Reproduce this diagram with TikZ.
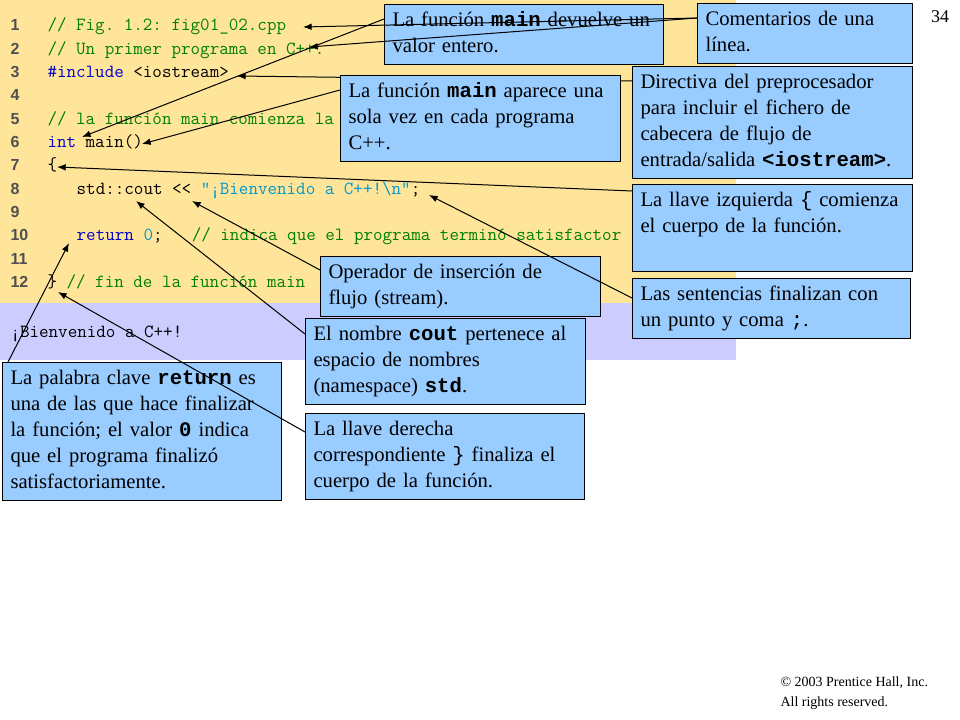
\documentclass[tikz,border=0pt]{standalone}
\usepackage{fontspec}
\setmainfont{Liberation Serif}
\setsansfont{Liberation Sans}
\setmonofont{Liberation Mono}
\usepackage{xcolor}
\usepackage{tikz}
\usetikzlibrary{positioning,arrows.meta}

\definecolor{codebg}{RGB}{255,229,153}
\definecolor{outbg}{RGB}{204,204,255}
\definecolor{notefill}{RGB}{153,204,255}
\definecolor{comgreen}{RGB}{0,128,0}
\definecolor{keyblue}{RGB}{0,0,204}
\definecolor{strblue}{RGB}{0,153,204}
\definecolor{numgray}{RGB}{80,80,80}

\newcommand{\codefont}{\fontsize{13.9}{16}\fontfamily{lmtt}\selectfont\frenchspacing}
\newcommand{\notefont}{\fontsize{15.5}{19.5}\selectfont}
\newcommand{\lnum}[1]{\makebox[27.75pt][l]{\fontsize{12}{14}\sffamily\bfseries\color{numgray}#1}}
\newcommand{\ind}{\hspace*{21.9pt}}
\newcommand{\cm}[1]{\textcolor{comgreen}{#1}}
\newcommand{\kw}[1]{\textcolor{keyblue}{#1}}
\newcommand{\tb}[1]{\texttt{\textbf{#1}}}

\begin{document}
\begin{tikzpicture}[x=0.75pt, y=-0.75pt, node distance=17.52pt,
  >={Latex[length=6.5pt,width=5pt]}, line width=0.75pt,
  every node/.style={inner sep=0pt},
  code/.style={anchor=west, font=\codefont, text height=9pt, text depth=3pt},
  note/.style={
    rectangle,
    draw,
    fill=notefill,
    anchor=north west,
    align=left,
    text width=198pt,
    inner xsep=6pt,
    inner ysep=3.5pt,
    text height=13pt,
    font=\notefont,
    execute at end node=\strut,
  }]

  \useasboundingbox[fill=white] (0,0) rectangle (960,720);
  \fill[codebg] (0,0) rectangle (736,303);
  \fill[outbg] (0,303) rectangle (736,360);

  \node[code] (l1) at (10,26.7) {\lnum{1}\cm{// Fig. 1.2: fig01\_02.cpp}};
  \node[below=of l1.west, code] (l2) {\lnum{2}\cm{// Un primer programa en C++.}};
  \node[below=of l2.west, code] (l3) {\lnum{3}\kw{\#include} <iostream>};
  \node[below=of l3.west, code] (l4) {\lnum{4}};
  \node[below=of l4.west, code] (l5) {\lnum{5}\cm{// la función main comienza la}};
  \node[below=of l5.west, code] (l6) {\lnum{6}\kw{int} main()};
  \node[below=of l6.west, code] (l7) {\lnum{7}\{};
  \node[below=of l7.west, code] (l8) {\lnum{8}\ind std::cout << \textcolor{strblue}{"¡Bienvenido a C++!\textbackslash n"};};
  \node[below=of l8.west, code] (l9) {\lnum{9}};
  \node[below=of l9.west, code] (l10) {\lnum{10}\ind\kw{return} \textcolor{strblue}{0};\ind\cm{// indica que el programa terminó satisfactor}};
  \node[below=of l10.west, code] (l11) {\lnum{11}};
  \node[below=of l11.west, code] (l12) {\lnum{12}\} \cm{// fin de la función main}};

  \node[code] (out) at (10,333) {¡Bienvenido a C++!};

  \coordinate (cpp) at (303,27);
  \coordinate (cxx) at (309,47);
  \coordinate (inc) at (237,76);
  \coordinate (int) at (82,137);
  \coordinate (main) at (142,144);
  \coordinate (lbrace) at (57,167);
  \coordinate (cout) at (136,201);
  \coordinate (shl) at (192,201);
  \coordinate (semi) at (429,195);
  \coordinate (ret) at (69,243);
  \coordinate (rbrace) at (58,292);

  \node[note] (n3) at (632,66) {Directiva del preprocesador\\para incluir el fichero de\\cabecera de flujo de\\entrada/salida \tb{<iostream>}.};
  \draw[->] ([yshift=-11.25pt]n3.north west) -- (inc);

  \node[note] (n4) at (340,75) {La función \tb{main} aparece una\\sola vez en cada programa\\C++.};
  \draw[->] ([yshift=-11.25pt]n4.north west) -- (main);

  \node[note, text width=197.25pt] (n1) at (384,4) {La función \tb{main} devuelve un\\valor entero.};
  \draw[->] ([yshift=-11.25pt]n1.north west) -- (int);

  \node[note, text width=149.25pt] (n2) at (697,3) {Comentarios de una\\línea.};
  \draw[->] ([yshift=-11.25pt]n2.north west) -- (cpp);
  \draw[->] ([yshift=-11.25pt]n2.north west) -- (cxx);

  \node[note, text depth=45pt] (n5) at (632,184) {La llave izquierda \texttt{\{} comienza\\el cuerpo de la función.};
  \draw[->] ([yshift=-5.25pt]n5.north west) -- (lbrace);

  \node[note] (n8) at (305,318) {El nombre \tb{cout} pertenece al\\espacio de nombres\\(namespace) \tb{std}.};
  \node[note] (n6) at (320,256) {Operador de inserción de\\flujo (stream).};
  \draw[->] ([yshift=-10.5pt]n6.north west) -- (shl);
  \draw[->] ([yshift=-12pt]n8.north west) -- (cout);

  \node[note, text width=196.5pt] (n7) at (632,278) {Las sentencias finalizan con\\un punto y coma \texttt{;}.};
  \draw[->] ([yshift=-15pt]n7.north west) -- (semi);

  \node[note, text width=197.25pt] (n9) at (2,362) {La palabra clave \tb{return} es\\una de las que hace finalizar\\la función; el valor \tb{0} indica\\que el programa finalizó\\satisfactoriamente.};
  \node[note, text width=197.25pt] (n10) at (305,413) {La llave derecha\\correspondiente \texttt{\}} finaliza el\\cuerpo de la función.};
  \draw[->] ([xshift=4.5pt]n9.north west) -- (ret);
  \draw[->] ([yshift=-14.25pt]n10.north west) -- (rbrace);

  \node[font=\fontsize{13.5}{16}\selectfont] (pg) at (940,17) {34};
  \node[anchor=north west, align=left, font=\fontsize{10.5}{15}\selectfont] (cr) at (780,676) {© 2003 Prentice Hall, Inc.\\All rights reserved.};

\end{tikzpicture}
\end{document}
